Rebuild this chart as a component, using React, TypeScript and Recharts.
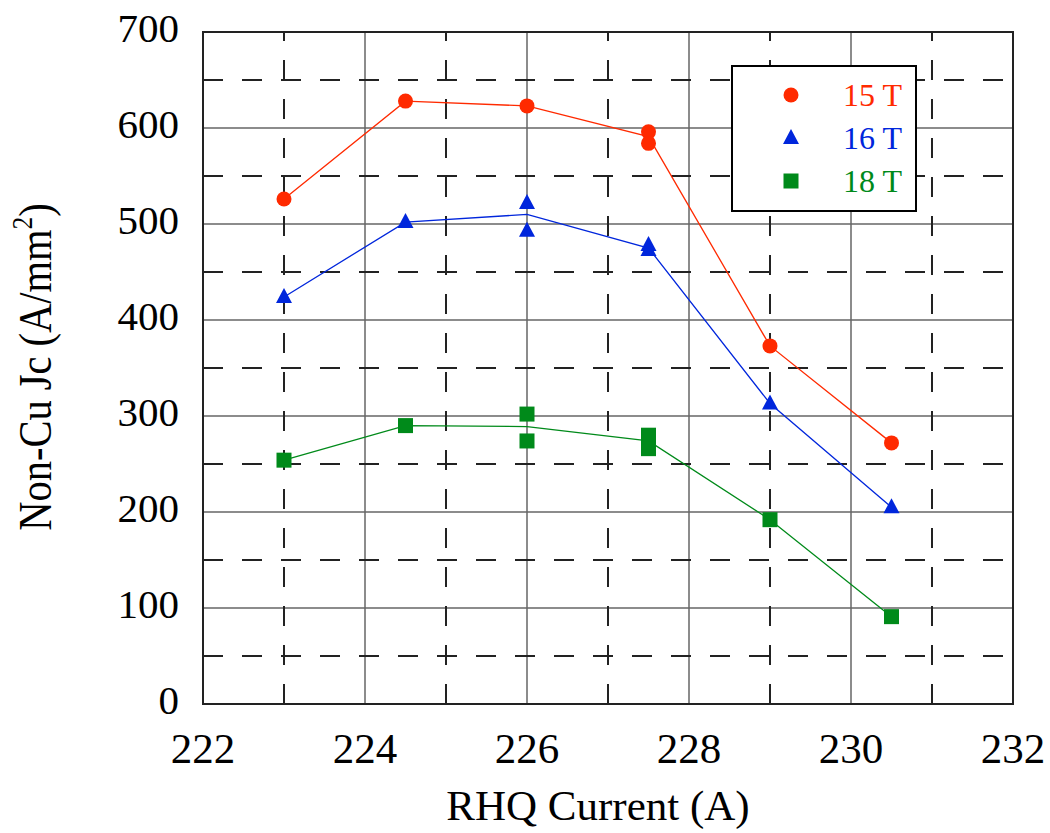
import React from "react";
import {
  ComposedChart,
  Line,
  Scatter,
  XAxis,
  YAxis,
  CartesianGrid,
  ReferenceLine,
  ReferenceArea,
} from "recharts";

// RHQ current (A) vs non-Cu Jc (A/mm^2)
const x15 = [223, 224.5, 226, 227.5, 227.5, 229, 230.5];
const jc15 = [526, 628, 623, 596, 584, 373, 272];
const x16 = [223, 224.5, 226, 226, 227.5, 227.5, 229, 230.5];
const jc16 = [424, 502, 522, 493, 478, 473, 313, 205];
const x18 = [223, 224.5, 226, 226, 227.5, 227.5, 229, 230.5];
const jc18 = [254, 290, 302, 274, 280, 266, 192, 91];

// trend lines go through the per-current averages
const trendX = [223, 224.5, 226, 227.5, 229, 230.5];
const trend15 = [526, 628, 623, 591, 373, 272];
const trend16 = [424, 502, 510, 475, 313, 205];
const trend18 = [254, 290, 289, 274, 192, 91];

const xTicks = [222, 224, 226, 228, 230, 232];
const yTicks = [0, 100, 200, 300, 400, 500, 600, 700];
const xMinor = [223, 225, 227, 229, 231];
const yMinor = [50, 150, 250, 350, 450, 550, 650];

const RED = "#ff2a00";
const BLUE = "#0026dc";
const GREEN = "#008a1a";
const FONT = "Liberation Serif";

const pts = (xs: number[], ys: number[]) => xs.map((x, i) => ({ x, y: ys[i] }));

const Circle = (p: any) => <circle cx={p.cx} cy={p.cy} r={7.5} fill={RED} />;
const Tri = (p: any) => (
  <polygon
    points={`${p.cx},${p.cy - 9} ${p.cx - 8},${p.cy + 6} ${p.cx + 8},${p.cy + 6}`}
    fill={BLUE}
  />
);
const Square = (p: any) => (
  <rect x={p.cx - 7.5} y={p.cy - 7.5} width={15} height={15} fill={GREEN} />
);

const legendRows = [
  { name: "15 T", color: RED, kind: "circle" },
  { name: "16 T", color: BLUE, kind: "tri" },
  { name: "18 T", color: GREEN, kind: "square" },
];

function LegendBox() {
  return (
    <div
      style={{
        position: "absolute",
        left: 731,
        top: 65,
        width: 182,
        height: 143,
        border: "2px solid #000",
        background: "#fff",
        fontFamily: FONT,
      }}
    >
      {legendRows.map((r, i) => (
        <div
          key={r.name}
          style={{
            position: "absolute",
            left: 0,
            top: 10 + i * 43,
            height: 36,
            display: "flex",
            alignItems: "center",
          }}
        >
          <svg width={110} height={36} style={{ display: "block" }}>
            {r.kind === "circle" && <circle cx={58} cy={18} r={7.5} fill={r.color} />}
            {r.kind === "tri" && <polygon points="58,9 50,24 66,24" fill={r.color} />}
            {r.kind === "square" && (
              <rect x={50.5} y={10.5} width={15} height={15} fill={r.color} />
            )}
          </svg>
          <span style={{ color: r.color, fontSize: 32, lineHeight: "36px" }}>{r.name}</span>
        </div>
      ))}
    </div>
  );
}

const YTick = (p: any) => (
  <text
    x={p.x}
    y={p.y + 10}
    textAnchor="end"
    style={{ fontFamily: FONT, fontSize: 41 }}
    fill="#000"
  >
    {p.payload.value}
  </text>
);

const XTick = (p: any) => (
  <text
    x={p.x}
    y={763}
    textAnchor="middle"
    style={{ fontFamily: FONT, fontSize: 43 }}
    fill="#000"
  >
    {p.payload.value}
  </text>
);

const YLabel = () => (
  <text
    x={0}
    y={0}
    transform="translate(51, 367) rotate(-90) scale(0.88, 1)"
    textAnchor="middle"
    style={{ fontFamily: FONT, fontSize: 46 }}
    fill="#000"
  >
    Non-Cu Jc (A/mm
    <tspan style={{ fontSize: 29 }} dy={-19}>2</tspan>
    <tspan dy={19}>)</tspan>
  </text>
);

const XLabel = () => (
  <text
    x={598}
    y={820}
    textAnchor="middle"
    style={{ fontFamily: FONT, fontSize: 43 }}
    fill="#000"
  >
    RHQ Current (A)
  </text>
);

export default function App() {
  return (
    <div style={{ position: "absolute", left: 0, top: 0, width: 1050, height: 833, background: "#fff" }}>
      <ComposedChart
        width={1050}
        height={833}
        margin={{ top: 32, right: 37, bottom: 49, left: 103 }}
      >
        <CartesianGrid
          horizontal
          vertical
          stroke="#666"
          strokeWidth={1.5}
          horizontalValues={yTicks}
          verticalValues={xTicks}
        />
        {xMinor.map((v) => (
          <ReferenceLine key={`vx${v}`} x={v} stroke="#222" strokeWidth={2} strokeDasharray="20 19" />
        ))}
        {yMinor.map((v) => (
          <ReferenceLine key={`hy${v}`} y={v} stroke="#222" strokeWidth={2} strokeDasharray="20 19" />
        ))}
        <ReferenceArea x1={222} x2={232} y1={0} y2={700} fill="none" stroke="#222" strokeWidth={2} />
        <XAxis
          type="number"
          dataKey="x"
          domain={[222, 232]}
          ticks={xTicks}
          allowDataOverflow
          height={80}
          axisLine={false}
          tickLine={false}
          tick={<XTick />}
          label={<XLabel />}
        />
        <YAxis
          type="number"
          dataKey="y"
          domain={[0, 700]}
          ticks={yTicks}
          allowDataOverflow
          width={100}
          axisLine={false}
          tickLine={false}
          tickMargin={18}
          tick={<YTick />}
          label={<YLabel />}
        />
        <Line data={pts(trendX, trend15)} dataKey="y" stroke={RED} strokeWidth={1.3} dot={false} activeDot={false} isAnimationActive={false} />
        <Line data={pts(trendX, trend16)} dataKey="y" stroke={BLUE} strokeWidth={1.3} dot={false} activeDot={false} isAnimationActive={false} />
        <Line data={pts(trendX, trend18)} dataKey="y" stroke={GREEN} strokeWidth={1.3} dot={false} activeDot={false} isAnimationActive={false} />
        <Scatter data={pts(x15, jc15)} dataKey="y" shape={Circle} isAnimationActive={false} />
        <Scatter data={pts(x16, jc16)} dataKey="y" shape={Tri} isAnimationActive={false} />
        <Scatter data={pts(x18, jc18)} dataKey="y" shape={Square} isAnimationActive={false} />
      </ComposedChart>
      <LegendBox />
    </div>
  );
}
